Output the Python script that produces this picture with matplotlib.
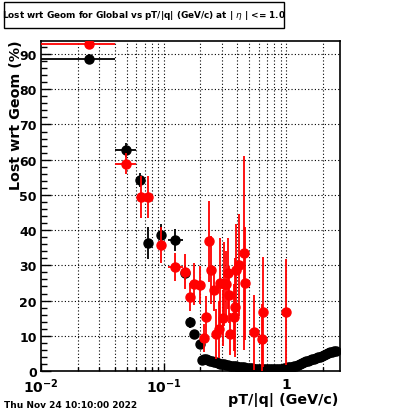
import matplotlib
matplotlib.use("Agg")
import matplotlib.pyplot as plt
from matplotlib.ticker import FixedLocator, MultipleLocator, NullFormatter, FixedFormatter
from matplotlib.patches import Rectangle

# --- Global (black) : pT/|q| vs lost fraction (%) ---
glob_x = [0.0245, 0.049, 0.064, 0.0741, 0.0946, 0.123, 0.149, 0.164, 0.176, 0.197,
          0.205, 0.213, 0.221, 0.229, 0.238, 0.247, 0.256, 0.266, 0.276, 0.287,
          0.298, 0.309, 0.321, 0.333, 0.346, 0.359, 0.373, 0.387, 0.402, 0.418,
          0.434, 0.450, 0.468, 0.486, 0.504, 0.524, 0.544, 0.565, 0.586, 0.609,
          0.632, 0.657, 0.682, 0.708, 0.735, 0.764, 0.793, 0.824, 0.855, 0.888,
          0.922, 0.958, 0.995, 1.03, 1.07, 1.11, 1.16, 1.20, 1.25, 1.30,
          1.35, 1.40, 1.45, 1.51, 1.57, 1.63, 1.69, 1.76, 1.82, 1.89,
          1.97, 2.04, 2.12, 2.20, 2.29, 2.38, 2.47, 2.55]
glob_y = [88.6, 62.8, 54.3, 36.4, 38.6, 37.2, 27.7, 13.8, 10.4, 7.6,
          3.2, 3.5, 3.4, 3.1, 2.9, 2.8, 2.6, 2.5, 2.3, 2.1,
          1.9, 2.0, 1.8, 1.6, 1.5, 1.4, 1.3, 1.3, 1.2, 1.1,
          1.0, 1.0, 0.9, 0.9, 0.9, 0.8, 0.7, 0.7, 0.7, 0.6,
          0.6, 0.5, 0.5, 0.5, 0.5, 0.5, 0.5, 0.5, 0.6, 0.6,
          0.7, 0.8, 0.9, 1.0, 1.1, 1.2, 1.4, 1.5, 1.8, 2.0,
          2.3, 2.5, 2.7, 2.9, 3.1, 3.3, 3.5, 3.7, 3.9, 4.1,
          4.4, 4.6, 4.9, 5.1, 5.3, 5.5, 5.6, 5.8]
glob_yerr = [1.5, 2.0, 2.0, 4.5, 3.0, 3.0, 2.0, 1.5, 1.2, 1.0] + [0.3] * 68
glob_xlo = [0.0145, 0.009, 0.004, 0.003, 0.004, 0.015] + [0.0] * 72
glob_xhi = [0.0155, 0.011, 0.004, 0.003, 0.004, 0.020] + [0.0] * 72

# --- second sample (red) ---
red_x = [0.0245, 0.049, 0.065, 0.074, 0.0946, 0.123, 0.149, 0.164, 0.176, 0.197,
         0.233, 0.245, 0.260, 0.220, 0.212, 0.270, 0.281, 0.290, 0.304, 0.312,
         0.324, 0.333, 0.339, 0.350, 0.372, 0.380, 0.392, 0.410, 0.453, 0.465,
         0.550, 0.630, 0.650, 0.995]
red_y = [92.9, 58.8, 49.4, 49.4, 35.8, 29.5, 28.2, 21.0, 24.7, 24.4,
         36.8, 28.7, 23.0, 15.2, 9.4, 10.5, 11.8, 24.9, 15.0, 24.7,
         24.7, 27.7, 21.7, 10.5, 15.2, 18.1, 28.8, 30.1, 33.5, 24.9,
         11.0, 9.1, 16.7, 16.7]
red_yerr = [0.5, 3.0, 6.0, 6.0, 5.0, 4.0, 5.0, 4.0, 6.0, 5.5,
            11.5, 9.7, 6.0, 6.0, 4.0, 7.0, 8.0, 13.0, 8.0, 12.0,
            9.5, 10.0, 8.0, 6.0, 9.5, 14.0, 13.0, 14.5, 27.5, 16.0,
            10.6, 10.0, 15.7, 15.0]
red_xlo = [0.0145, 0.009, 0.0, 0.0, 0.0, 0.015] + [0.0] * 28
red_xhi = [0.0155, 0.011, 0.0, 0.0, 0.0, 0.020] + [0.0] * 28

fig = plt.figure(figsize=(4.0, 4.14), dpi=100)
ax = fig.add_axes([41 / 400, 1 - 372 / 414, 299 / 400, 330 / 414])

ax.set_xscale("log")
ax.set_xlim(0.01, 2.75)
ax.set_ylim(0, 93.7)

# grid on all decades and sub-decades (ROOT style)
grid_x = [0.02, 0.03, 0.04, 0.05, 0.06, 0.07, 0.08, 0.09, 0.1,
          0.2, 0.3, 0.4, 0.5, 0.6, 0.7, 0.8, 0.9, 1.0, 2.0]
for gx in grid_x:
    ax.axvline(gx, color="black", lw=0.8, ls=(0, (1, 2)), zorder=0)
for gy in range(10, 100, 10):
    ax.axhline(gy, color="black", lw=0.8, ls=(0, (1, 2)), zorder=0)

ax.errorbar(glob_x, glob_y, yerr=glob_yerr, xerr=[glob_xlo, glob_xhi], fmt="o",
            color="black", markersize=6.5, elinewidth=1.3, capsize=0, zorder=3)
ax.errorbar(red_x, red_y, yerr=red_yerr, xerr=[red_xlo, red_xhi], fmt="o",
            color="red", markersize=6.5, elinewidth=1.3, capsize=0, zorder=4)

ax.xaxis.set_major_locator(FixedLocator([0.01, 0.1, 1.0]))
ax.xaxis.set_major_formatter(FixedFormatter([r"$\mathbf{10^{-2}}$", r"$\mathbf{10^{-1}}$", r"$\mathbf{1}$"]))
minor_x = [0.02, 0.03, 0.04, 0.05, 0.06, 0.07, 0.08, 0.09,
           0.2, 0.3, 0.4, 0.5, 0.6, 0.7, 0.8, 0.9, 2.0]
ax.xaxis.set_minor_locator(FixedLocator(minor_x))
ax.xaxis.set_minor_formatter(NullFormatter())
ax.yaxis.set_major_locator(MultipleLocator(10))
ax.yaxis.set_minor_locator(MultipleLocator(2))

ax.tick_params(axis="both", which="both", direction="in", top=False, right=False)
ax.tick_params(axis="x", which="major", length=6, width=1, labelsize=10, pad=4)
ax.tick_params(axis="x", which="minor", length=3, width=1)
ax.tick_params(axis="y", which="major", length=7, width=1, labelsize=9, pad=3)
ax.tick_params(axis="y", which="minor", length=4, width=1)
for lab in ax.get_yticklabels():
    lab.set_fontweight("bold")
for sp in ax.spines.values():
    sp.set_linewidth(1.2)

fig.text(16 / 400, 1 - 40 / 414, "Lost wrt Geom (%)", rotation=90, ha="center",
         va="top", fontsize=10.3, fontweight="bold")
fig.text(338 / 400, 1 - 400 / 414, "pT/|q| (GeV/c)", ha="right", va="center",
         fontsize=10.3, fontweight="bold")
fig.text(4 / 400, 1 - 406 / 414, "Thu Nov 24 10:10:00 2022", ha="left", va="center",
         fontsize=6.5, fontweight="bold")

# title box
fig.patches.append(Rectangle((4 / 400, 1 - 29 / 414), 280 / 400, 26 / 414,
                             transform=fig.transFigure, facecolor="white",
                             edgecolor="black", lw=1.0))
fig.text(144 / 400, 1 - 16 / 414,
         r"Lost wrt Geom for Global vs pT/|q| (GeV/c) at | $\eta$ | <= 1.0",
         ha="center", va="center", fontsize=6.4, fontweight="bold")

fig.savefig("out.png", dpi=100)
